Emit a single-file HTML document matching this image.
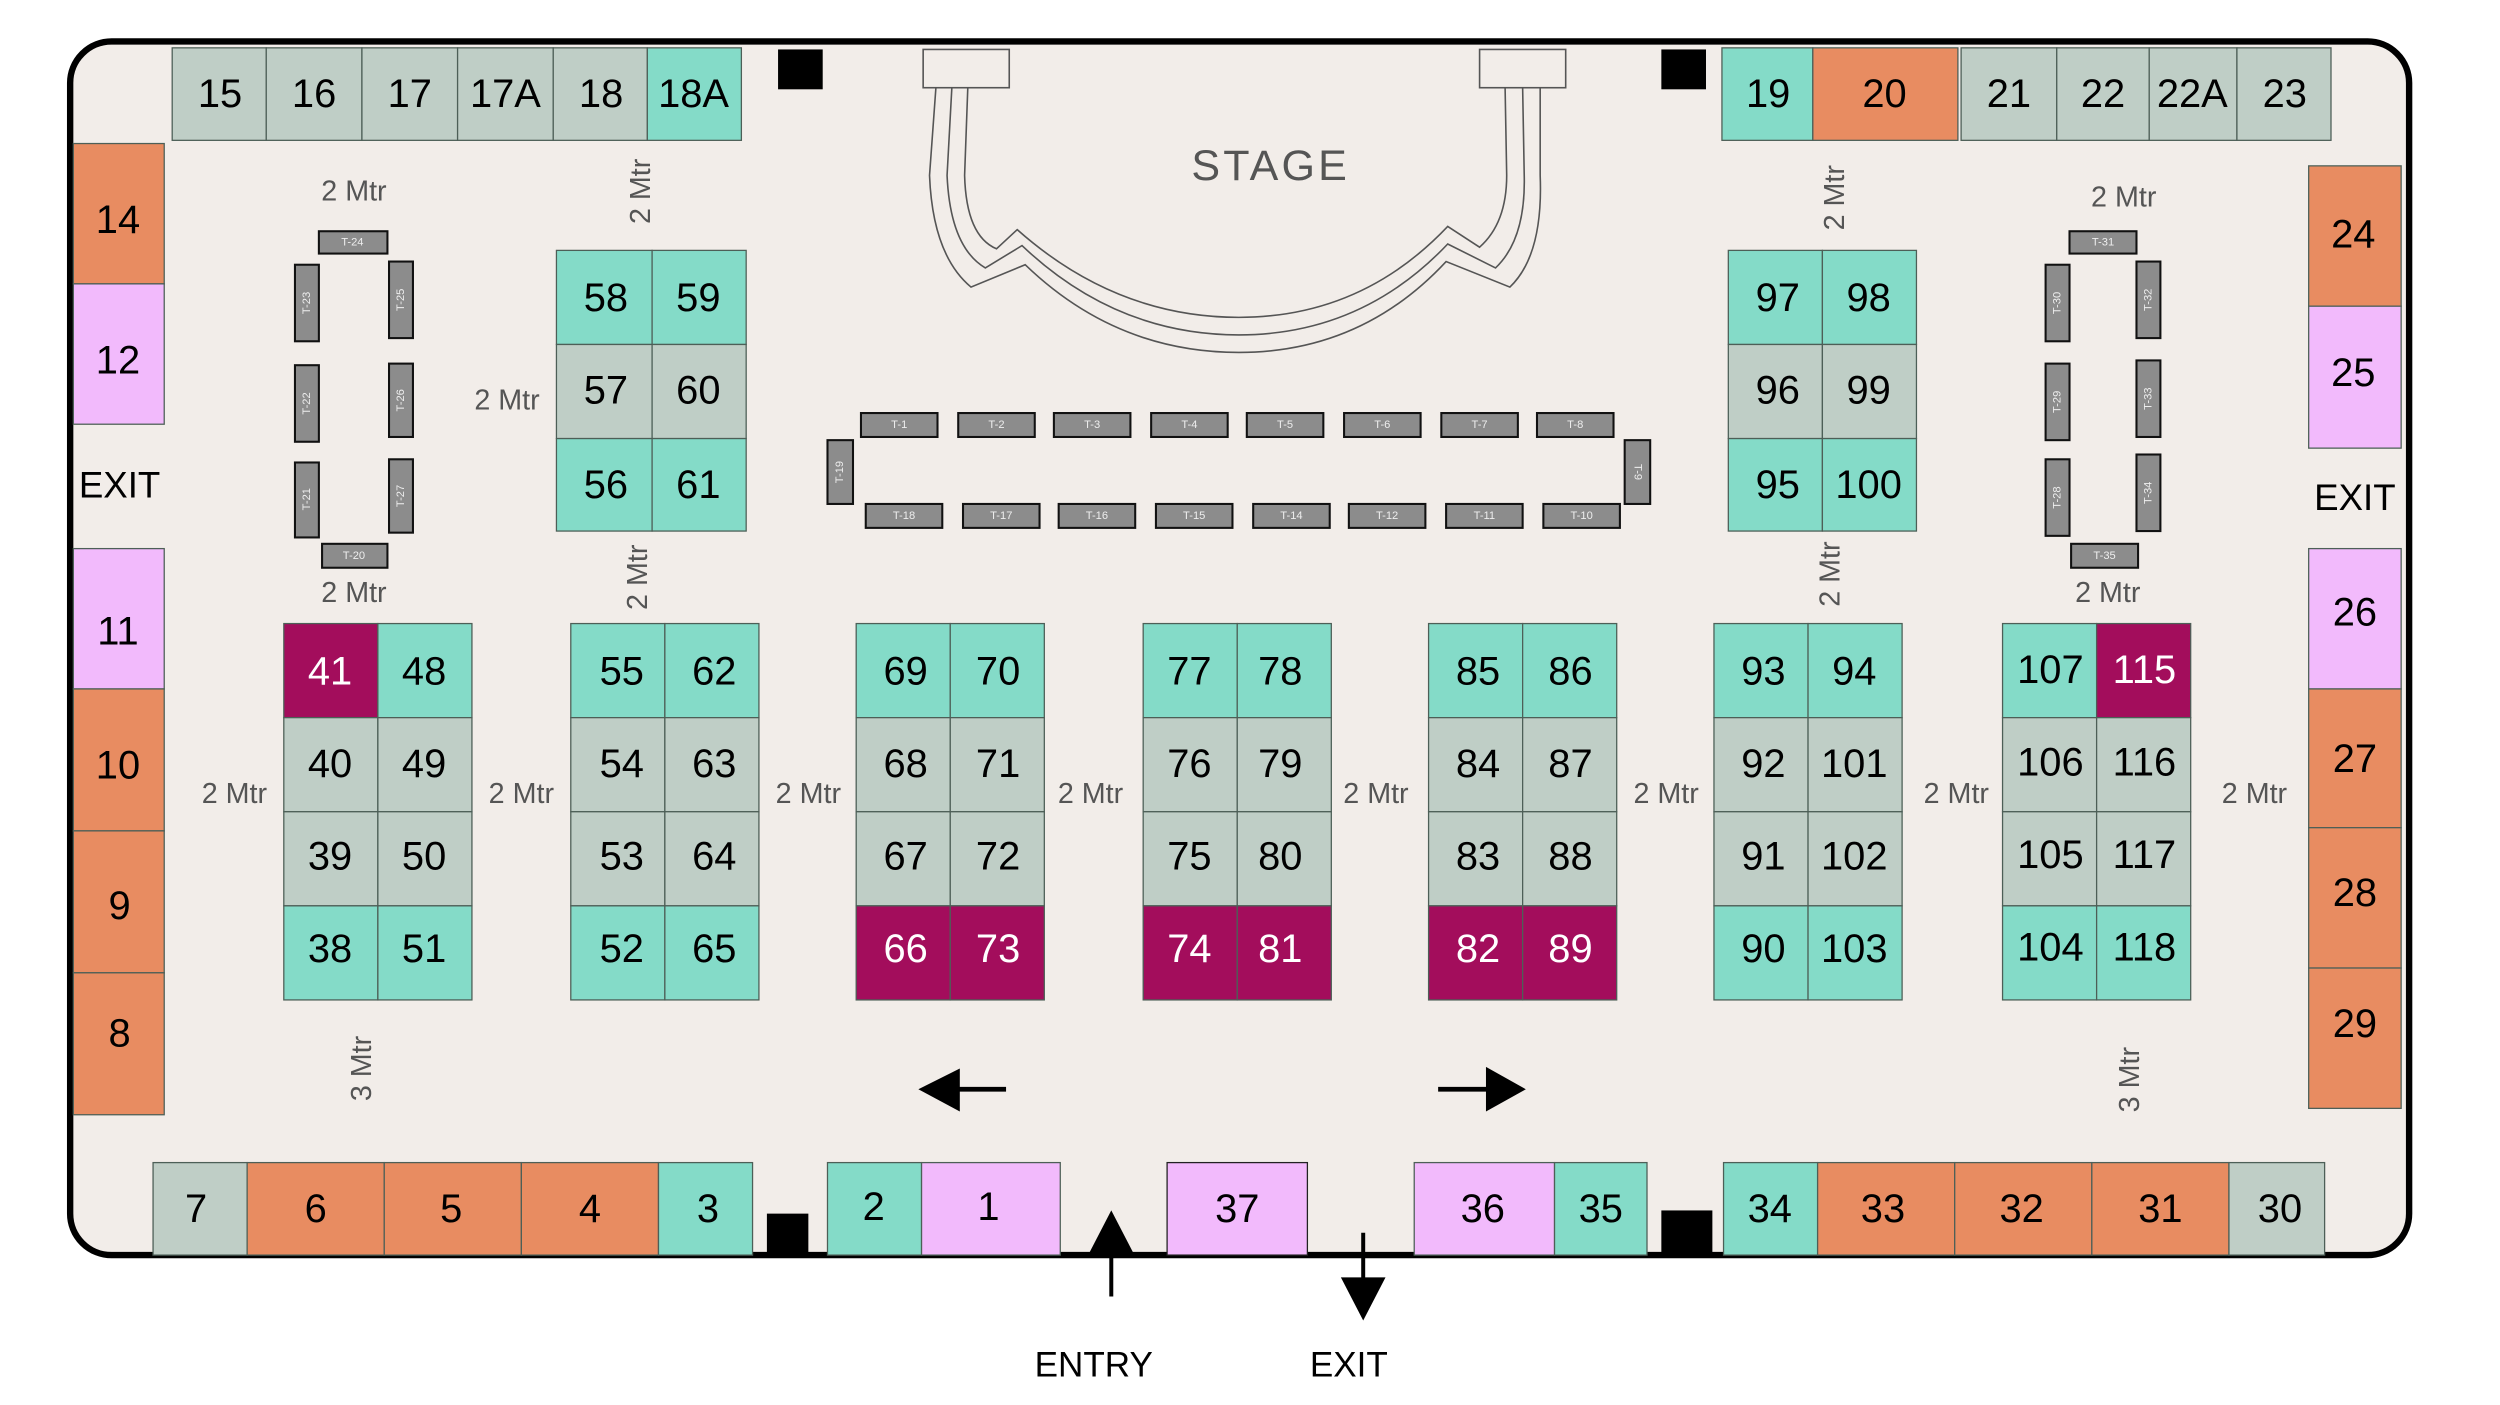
<!DOCTYPE html>
<html><head><meta charset="utf-8"><style>
html,body{margin:0;padding:0;background:#fff;}
svg{display:block;}
text{font-family:"Liberation Sans",sans-serif;}
.n{font-size:25px;text-anchor:middle;dominant-baseline:central;fill:#000;}
.w{fill:#fff;}
.m{font-size:18px;fill:#555;text-anchor:middle;dominant-baseline:central;}
.t{font-size:7px;fill:#eee;text-anchor:middle;dominant-baseline:central;}
.c{stroke:#4d5f57;stroke-width:0.8;}
.tb{fill:#8c8c8c;stroke:#111;stroke-width:1.3;}
</style></head><body>
<svg width="2500" height="1405" viewBox="0 0 1568 881" preserveAspectRatio="none" xmlns="http://www.w3.org/2000/svg">
<rect x="0" y="0" width="1568" height="881" fill="#fff"/>
<rect x="44" y="26" width="1467" height="761" rx="26" ry="26" fill="#f2ede9" stroke="#000" stroke-width="4"/>

<!-- top left row -->
<g class="c">
<rect x="108" y="30" width="59" height="58" fill="#bfcec6"/>
<rect x="167" y="30" width="60" height="58" fill="#bfcec6"/>
<rect x="227" y="30" width="60" height="58" fill="#bfcec6"/>
<rect x="287" y="30" width="60" height="58" fill="#bfcec6"/>
<rect x="347" y="30" width="59" height="58" fill="#bfcec6"/>
<rect x="406" y="30" width="59" height="58" fill="#84dbc8"/>
</g>
<text class="n" x="138" y="59">15</text><text class="n" x="197" y="59">16</text><text class="n" x="257" y="59">17</text>
<text class="n" x="317" y="59">17A</text><text class="n" x="377" y="59">18</text><text class="n" x="435" y="59">18A</text>
<rect x="488" y="31" width="28" height="25" fill="#000"/>
<rect x="1042" y="31" width="28" height="25" fill="#000"/>

<!-- top right row -->
<g class="c">
<rect x="1080" y="30" width="57" height="58" fill="#84dbc8"/>
<rect x="1137" y="30" width="91" height="58" fill="#e88c61"/>
<rect x="1230" y="30" width="60" height="58" fill="#bfcec6"/>
<rect x="1290" y="30" width="58" height="58" fill="#bfcec6"/>
<rect x="1348" y="30" width="55" height="58" fill="#bfcec6"/>
<rect x="1403" y="30" width="59" height="58" fill="#bfcec6"/>
</g>
<text class="n" x="1109" y="59">19</text><text class="n" x="1182" y="59">20</text><text class="n" x="1260" y="59">21</text>
<text class="n" x="1319" y="59">22</text><text class="n" x="1375" y="59">22A</text><text class="n" x="1433" y="59">23</text>

<!-- left column -->
<g class="c">
<rect x="46" y="90" width="57" height="88" fill="#e88c61"/>
<rect x="46" y="178" width="57" height="88" fill="#f2bafc"/>
<rect x="46" y="344" width="57" height="88" fill="#f2bafc"/>
<rect x="46" y="432" width="57" height="89" fill="#e88c61"/>
<rect x="46" y="521" width="57" height="89" fill="#e88c61"/>
<rect x="46" y="610" width="57" height="89" fill="#e88c61"/>
</g>
<text class="n" x="74" y="138">14</text><text class="n" x="74" y="226">12</text>
<text class="n" x="75" y="304" style="font-size:23px">EXIT</text>
<text class="n" x="74" y="396">11</text><text class="n" x="74" y="480">10</text>
<text class="n" x="75" y="568">9</text><text class="n" x="75" y="648">8</text>

<!-- right column -->
<g class="c">
<rect x="1448" y="104" width="58" height="88" fill="#e88c61"/>
<rect x="1448" y="192" width="58" height="89" fill="#f2bafc"/>
<rect x="1448" y="344" width="58" height="88" fill="#f2bafc"/>
<rect x="1448" y="432" width="58" height="87" fill="#e88c61"/>
<rect x="1448" y="519" width="58" height="88" fill="#e88c61"/>
<rect x="1448" y="607" width="58" height="88" fill="#e88c61"/>
</g>
<text class="n" x="1476" y="147">24</text><text class="n" x="1476" y="234">25</text>
<text class="n" x="1477" y="312" style="font-size:23px">EXIT</text>
<text class="n" x="1477" y="384">26</text><text class="n" x="1477" y="476">27</text>
<text class="n" x="1477" y="560">28</text><text class="n" x="1477" y="642">29</text>

<!-- bottom row -->
<g class="c">
<rect x="96" y="729" width="59" height="58" fill="#bfcec6"/>
<rect x="155" y="729" width="86" height="58" fill="#e88c61"/>
<rect x="241" y="729" width="86" height="58" fill="#e88c61"/>
<rect x="327" y="729" width="86" height="58" fill="#e88c61"/>
<rect x="413" y="729" width="59" height="58" fill="#84dbc8"/>
<rect x="519" y="729" width="59" height="58" fill="#84dbc8"/>
<rect x="578" y="729" width="87" height="58" fill="#f2bafc"/>
<rect x="732" y="729" width="88" height="58" fill="#f2bafc" stroke="#222"/>
<rect x="887" y="729" width="88" height="58" fill="#f2bafc"/>
<rect x="975" y="729" width="58" height="58" fill="#84dbc8"/>
<rect x="1081" y="729" width="59" height="58" fill="#84dbc8"/>
<rect x="1140" y="729" width="86" height="58" fill="#e88c61"/>
<rect x="1226" y="729" width="86" height="58" fill="#e88c61"/>
<rect x="1312" y="729" width="86" height="58" fill="#e88c61"/>
<rect x="1398" y="729" width="60" height="58" fill="#bfcec6"/>
</g>
<rect x="481" y="761" width="26" height="26" fill="#000"/>
<rect x="1042" y="759" width="32" height="28" fill="#000"/>
<text class="n" x="123" y="758">7</text><text class="n" x="198" y="758">6</text><text class="n" x="283" y="758">5</text>
<text class="n" x="370" y="758">4</text><text class="n" x="444" y="758">3</text><text class="n" x="548" y="757">2</text>
<text class="n" x="620" y="757">1</text><text class="n" x="776" y="758">37</text><text class="n" x="930" y="758">36</text>
<text class="n" x="1004" y="758">35</text><text class="n" x="1110" y="758">34</text><text class="n" x="1181" y="758">33</text>
<text class="n" x="1268" y="758">32</text><text class="n" x="1355" y="758">31</text><text class="n" x="1430" y="758">30</text>

<!-- grids -->
<g class="c">
<rect x="178" y="391" width="59" height="59" fill="#a30d5c"/><rect x="237" y="391" width="59" height="59" fill="#84dbc8"/>
<rect x="178" y="450" width="59" height="59" fill="#bfcec6"/><rect x="237" y="450" width="59" height="59" fill="#bfcec6"/>
<rect x="178" y="509" width="59" height="59" fill="#bfcec6"/><rect x="237" y="509" width="59" height="59" fill="#bfcec6"/>
<rect x="178" y="568" width="59" height="59" fill="#84dbc8"/><rect x="237" y="568" width="59" height="59" fill="#84dbc8"/>
<rect x="358" y="391" width="59" height="59" fill="#84dbc8"/><rect x="417" y="391" width="59" height="59" fill="#84dbc8"/>
<rect x="358" y="450" width="59" height="59" fill="#bfcec6"/><rect x="417" y="450" width="59" height="59" fill="#bfcec6"/>
<rect x="358" y="509" width="59" height="59" fill="#bfcec6"/><rect x="417" y="509" width="59" height="59" fill="#bfcec6"/>
<rect x="358" y="568" width="59" height="59" fill="#84dbc8"/><rect x="417" y="568" width="59" height="59" fill="#84dbc8"/>
<rect x="537" y="391" width="59" height="59" fill="#84dbc8"/><rect x="596" y="391" width="59" height="59" fill="#84dbc8"/>
<rect x="537" y="450" width="59" height="59" fill="#bfcec6"/><rect x="596" y="450" width="59" height="59" fill="#bfcec6"/>
<rect x="537" y="509" width="59" height="59" fill="#bfcec6"/><rect x="596" y="509" width="59" height="59" fill="#bfcec6"/>
<rect x="537" y="568" width="59" height="59" fill="#a30d5c"/><rect x="596" y="568" width="59" height="59" fill="#a30d5c"/>
<rect x="717" y="391" width="59" height="59" fill="#84dbc8"/><rect x="776" y="391" width="59" height="59" fill="#84dbc8"/>
<rect x="717" y="450" width="59" height="59" fill="#bfcec6"/><rect x="776" y="450" width="59" height="59" fill="#bfcec6"/>
<rect x="717" y="509" width="59" height="59" fill="#bfcec6"/><rect x="776" y="509" width="59" height="59" fill="#bfcec6"/>
<rect x="717" y="568" width="59" height="59" fill="#a30d5c"/><rect x="776" y="568" width="59" height="59" fill="#a30d5c"/>
<rect x="896" y="391" width="59" height="59" fill="#84dbc8"/><rect x="955" y="391" width="59" height="59" fill="#84dbc8"/>
<rect x="896" y="450" width="59" height="59" fill="#bfcec6"/><rect x="955" y="450" width="59" height="59" fill="#bfcec6"/>
<rect x="896" y="509" width="59" height="59" fill="#bfcec6"/><rect x="955" y="509" width="59" height="59" fill="#bfcec6"/>
<rect x="896" y="568" width="59" height="59" fill="#a30d5c"/><rect x="955" y="568" width="59" height="59" fill="#a30d5c"/>
<rect x="1075" y="391" width="59" height="59" fill="#84dbc8"/><rect x="1134" y="391" width="59" height="59" fill="#84dbc8"/>
<rect x="1075" y="450" width="59" height="59" fill="#bfcec6"/><rect x="1134" y="450" width="59" height="59" fill="#bfcec6"/>
<rect x="1075" y="509" width="59" height="59" fill="#bfcec6"/><rect x="1134" y="509" width="59" height="59" fill="#bfcec6"/>
<rect x="1075" y="568" width="59" height="59" fill="#84dbc8"/><rect x="1134" y="568" width="59" height="59" fill="#84dbc8"/>
<rect x="1256" y="391" width="59" height="59" fill="#84dbc8"/><rect x="1315" y="391" width="59" height="59" fill="#a30d5c"/>
<rect x="1256" y="450" width="59" height="59" fill="#bfcec6"/><rect x="1315" y="450" width="59" height="59" fill="#bfcec6"/>
<rect x="1256" y="509" width="59" height="59" fill="#bfcec6"/><rect x="1315" y="509" width="59" height="59" fill="#bfcec6"/>
<rect x="1256" y="568" width="59" height="59" fill="#84dbc8"/><rect x="1315" y="568" width="59" height="59" fill="#84dbc8"/>
<rect x="349" y="157" width="60" height="59" fill="#84dbc8"/><rect x="409" y="157" width="59" height="59" fill="#84dbc8"/>
<rect x="349" y="216" width="60" height="59" fill="#bfcec6"/><rect x="409" y="216" width="59" height="59" fill="#bfcec6"/>
<rect x="349" y="275" width="60" height="58" fill="#84dbc8"/><rect x="409" y="275" width="59" height="58" fill="#84dbc8"/>
<rect x="1084" y="157" width="59" height="59" fill="#84dbc8"/><rect x="1143" y="157" width="59" height="59" fill="#84dbc8"/>
<rect x="1084" y="216" width="59" height="59" fill="#bfcec6"/><rect x="1143" y="216" width="59" height="59" fill="#bfcec6"/>
<rect x="1084" y="275" width="59" height="58" fill="#84dbc8"/><rect x="1143" y="275" width="59" height="58" fill="#84dbc8"/>
</g>
<text class="n w" x="207" y="421">41</text><text class="n" x="266" y="421">48</text>
<text class="n" x="207" y="479">40</text><text class="n" x="266" y="479">49</text>
<text class="n" x="207" y="537">39</text><text class="n" x="266" y="537">50</text>
<text class="n" x="207" y="595">38</text><text class="n" x="266" y="595">51</text>
<text class="n" x="390" y="421">55</text><text class="n" x="448" y="421">62</text>
<text class="n" x="390" y="479">54</text><text class="n" x="448" y="479">63</text>
<text class="n" x="390" y="537">53</text><text class="n" x="448" y="537">64</text>
<text class="n" x="390" y="595">52</text><text class="n" x="448" y="595">65</text>
<text class="n" x="568" y="421">69</text><text class="n" x="626" y="421">70</text>
<text class="n" x="568" y="479">68</text><text class="n" x="626" y="479">71</text>
<text class="n" x="568" y="537">67</text><text class="n" x="626" y="537">72</text>
<text class="n w" x="568" y="595">66</text><text class="n w" x="626" y="595">73</text>
<text class="n" x="746" y="421">77</text><text class="n" x="803" y="421">78</text>
<text class="n" x="746" y="479">76</text><text class="n" x="803" y="479">79</text>
<text class="n" x="746" y="537">75</text><text class="n" x="803" y="537">80</text>
<text class="n w" x="746" y="595">74</text><text class="n w" x="803" y="595">81</text>
<text class="n" x="927" y="421">85</text><text class="n" x="985" y="421">86</text>
<text class="n" x="927" y="479">84</text><text class="n" x="985" y="479">87</text>
<text class="n" x="927" y="537">83</text><text class="n" x="985" y="537">88</text>
<text class="n w" x="927" y="595">82</text><text class="n w" x="985" y="595">89</text>
<text class="n" x="1106" y="421">93</text><text class="n" x="1163" y="421">94</text>
<text class="n" x="1106" y="479">92</text><text class="n" x="1163" y="479">101</text>
<text class="n" x="1106" y="537">91</text><text class="n" x="1163" y="537">102</text>
<text class="n" x="1106" y="595">90</text><text class="n" x="1163" y="595">103</text>
<text class="n" x="1286" y="420">107</text><text class="n w" x="1345" y="420">115</text>
<text class="n" x="1286" y="478">106</text><text class="n" x="1345" y="478">116</text>
<text class="n" x="1286" y="536">105</text><text class="n" x="1345" y="536">117</text>
<text class="n" x="1286" y="594">104</text><text class="n" x="1345" y="594">118</text>
<text class="n" x="380" y="187">58</text><text class="n" x="438" y="187">59</text>
<text class="n" x="380" y="245">57</text><text class="n" x="438" y="245">60</text>
<text class="n" x="380" y="304">56</text><text class="n" x="438" y="304">61</text>
<text class="n" x="1115" y="187">97</text><text class="n" x="1172" y="187">98</text>
<text class="n" x="1115" y="245">96</text><text class="n" x="1172" y="245">99</text>
<text class="n" x="1115" y="304">95</text><text class="n" x="1172" y="304">100</text>

<text class="m" x="147" y="498">2 Mtr</text><text class="m" x="327" y="498">2 Mtr</text>
<text class="m" x="507" y="498">2 Mtr</text><text class="m" x="684" y="498">2 Mtr</text>
<text class="m" x="863" y="498">2 Mtr</text><text class="m" x="1045" y="498">2 Mtr</text>
<text class="m" x="1227" y="498">2 Mtr</text><text class="m" x="1414" y="498">2 Mtr</text>
<text class="m" x="222" y="120">2 Mtr</text><text class="m" x="222" y="372">2 Mtr</text>
<text class="m" x="318" y="251">2 Mtr</text>
<text class="m" x="1332" y="124">2 Mtr</text><text class="m" x="1322" y="372">2 Mtr</text>
<text class="m" transform="translate(402,120) rotate(-90)" x="0" y="0">2 Mtr</text>
<text class="m" transform="translate(400,362) rotate(-90)" x="0" y="0">2 Mtr</text>
<text class="m" transform="translate(1151,124) rotate(-90)" x="0" y="0">2 Mtr</text>
<text class="m" transform="translate(1148,360) rotate(-90)" x="0" y="0">2 Mtr</text>
<text class="m" transform="translate(227,670) rotate(-90)" x="0" y="0">3 Mtr</text>
<text class="m" transform="translate(1336,677) rotate(-90)" x="0" y="0">3 Mtr</text>

<rect class="tb" x="200" y="145" width="43" height="14"/><text class="t" x="221" y="152">T-24</text>
<rect class="tb" x="185" y="166" width="15" height="48"/><text class="t" transform="translate(192.5,190) rotate(-90)">T-23</text>
<rect class="tb" x="244" y="164" width="15" height="48"/><text class="t" transform="translate(251.5,188) rotate(-90)">T-25</text>
<rect class="tb" x="185" y="229" width="15" height="48"/><text class="t" transform="translate(192.5,253) rotate(-90)">T-22</text>
<rect class="tb" x="244" y="228" width="15" height="46"/><text class="t" transform="translate(251.5,251) rotate(-90)">T-26</text>
<rect class="tb" x="185" y="290" width="15" height="47"/><text class="t" transform="translate(192.5,313) rotate(-90)">T-21</text>
<rect class="tb" x="244" y="288" width="15" height="46"/><text class="t" transform="translate(251.5,311) rotate(-90)">T-27</text>
<rect class="tb" x="202" y="341" width="41" height="15"/><text class="t" x="222" y="348.5">T-20</text>
<rect class="tb" x="1298" y="145" width="42" height="14"/><text class="t" x="1319" y="152">T-31</text>
<rect class="tb" x="1283" y="166" width="15" height="48"/><text class="t" transform="translate(1290.5,190) rotate(-90)">T-30</text>
<rect class="tb" x="1340" y="164" width="15" height="48"/><text class="t" transform="translate(1347.5,188) rotate(-90)">T-32</text>
<rect class="tb" x="1283" y="228" width="15" height="48"/><text class="t" transform="translate(1290.5,252) rotate(-90)">T-29</text>
<rect class="tb" x="1340" y="226" width="15" height="48"/><text class="t" transform="translate(1347.5,250) rotate(-90)">T-33</text>
<rect class="tb" x="1283" y="288" width="15" height="48"/><text class="t" transform="translate(1290.5,312) rotate(-90)">T-28</text>
<rect class="tb" x="1340" y="285" width="15" height="48"/><text class="t" transform="translate(1347.5,309) rotate(-90)">T-34</text>
<rect class="tb" x="1299" y="341" width="42" height="15"/><text class="t" x="1320" y="348.5">T-35</text>
<rect class="tb" x="540" y="259" width="48" height="15"/><text class="t" x="564" y="266.5">T-1</text>
<rect class="tb" x="601" y="259" width="48" height="15"/><text class="t" x="625" y="266.5">T-2</text>
<rect class="tb" x="661" y="259" width="48" height="15"/><text class="t" x="685" y="266.5">T-3</text>
<rect class="tb" x="722" y="259" width="48" height="15"/><text class="t" x="746" y="266.5">T-4</text>
<rect class="tb" x="782" y="259" width="48" height="15"/><text class="t" x="806" y="266.5">T-5</text>
<rect class="tb" x="843" y="259" width="48" height="15"/><text class="t" x="867" y="266.5">T-6</text>
<rect class="tb" x="904" y="259" width="48" height="15"/><text class="t" x="928" y="266.5">T-7</text>
<rect class="tb" x="964" y="259" width="48" height="15"/><text class="t" x="988" y="266.5">T-8</text>
<rect class="tb" x="543" y="316" width="48" height="15"/><text class="t" x="567" y="323.5">T-18</text>
<rect class="tb" x="604" y="316" width="48" height="15"/><text class="t" x="628" y="323.5">T-17</text>
<rect class="tb" x="664" y="316" width="48" height="15"/><text class="t" x="688" y="323.5">T-16</text>
<rect class="tb" x="725" y="316" width="48" height="15"/><text class="t" x="749" y="323.5">T-15</text>
<rect class="tb" x="786" y="316" width="48" height="15"/><text class="t" x="810" y="323.5">T-14</text>
<rect class="tb" x="846" y="316" width="48" height="15"/><text class="t" x="870" y="323.5">T-12</text>
<rect class="tb" x="907" y="316" width="48" height="15"/><text class="t" x="931" y="323.5">T-11</text>
<rect class="tb" x="968" y="316" width="48" height="15"/><text class="t" x="992" y="323.5">T-10</text>
<rect class="tb" x="519" y="276" width="16" height="40"/><text class="t" transform="translate(527,296) rotate(-90)">T-19</text>
<rect class="tb" x="1019" y="276" width="16" height="40"/><text class="t" transform="translate(1027,296) rotate(90)">T-9</text>

<g fill="none" stroke="#555" stroke-width="1">
<rect x="579" y="31" width="54" height="24"/>
<rect x="928" y="31" width="54" height="24"/>
<path d="M587,55 L583,110 Q585,160 609,180 L643,166 Q700,221 777,221 Q854,221 907,164 L947,180 Q968,160 966,110 L966,55"/>
<path d="M597,55 L594,110 Q596,155 618,168 L641,154 Q700,210 777,210 Q854,210 908,153 L938,168 Q957,150 956,110 L955,55"/>
<path d="M607,55 L605,110 Q606,148 625,156 L638,144 Q700,199 777,199 Q854,199 908,142 L928,155 Q945,140 945,110 L944,55"/>
</g>
<text x="797" y="104" style="font-size:27px;fill:#555;text-anchor:middle;dominant-baseline:central;letter-spacing:2px">STAGE</text>

<line x1="600" y1="683" x2="631" y2="683" stroke="#000" stroke-width="3"/>
<polygon points="576,683 602,670 602,697" fill="#000"/>
<line x1="902" y1="683" x2="934" y2="683" stroke="#000" stroke-width="3"/>
<polygon points="957,683 932,669 932,697" fill="#000"/>
<line x1="697" y1="783" x2="697" y2="813" stroke="#000" stroke-width="2.5"/>
<polygon points="697,759 683,786 711,786" fill="#000"/>
<line x1="855" y1="773" x2="855" y2="805" stroke="#000" stroke-width="2.5"/>
<polygon points="855,828 841,801 869,801" fill="#000"/>
<text x="686" y="856" style="font-size:22px;text-anchor:middle;dominant-baseline:central">ENTRY</text>
<text x="846" y="856" style="font-size:22px;text-anchor:middle;dominant-baseline:central">EXIT</text>
</svg>
</body></html>
